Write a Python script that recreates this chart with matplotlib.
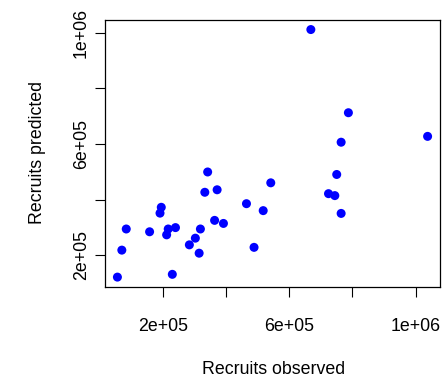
import matplotlib
matplotlib.use("Agg")
import matplotlib.pyplot as plt

# recruits observed vs predicted
observed = [6.68e5, 7.87e5, 1.038e6, 7.64e5, 7.50e5, 3.41e5, 5.41e5, 3.71e5,
            3.32e5, 7.24e5, 7.44e5, 4.64e5, 5.17e5, 7.64e5, 1.94e5, 1.90e5,
            3.63e5, 3.91e5, 0.83e5, 1.57e5, 2.16e5, 2.39e5, 2.11e5, 3.18e5,
            3.02e5, 2.83e5, 3.14e5, 4.88e5, 0.69e5, 0.55e5, 2.29e5]
predicted = [1.011e6, 7.12e5, 6.27e5, 6.06e5, 4.90e5, 4.99e5, 4.60e5, 4.35e5,
             4.26e5, 4.21e5, 4.14e5, 3.85e5, 3.60e5, 3.50e5, 3.72e5, 3.51e5,
             3.25e5, 3.14e5, 2.94e5, 2.84e5, 2.94e5, 2.99e5, 2.73e5, 2.94e5,
             2.61e5, 2.37e5, 2.07e5, 2.28e5, 2.18e5, 1.21e5, 1.31e5]

xticks = [2e5, 4e5, 6e5, 8e5, 1e6]
xticklabels = ["2e+05", "", "6e+05", "", "1e+06"]
yticks = [2e5, 4e5, 6e5, 8e5, 1e6]
yticklabels = ["2e+05", "", "6e+05", "", "1e+06"]

plt.rcParams['font.family'] = ['Liberation Sans', 'DejaVu Sans']

fig = plt.figure(figsize=(4.44, 3.78), dpi=100)
ax = fig.add_axes([0.2365, 0.2407, 0.7545, 0.7073])

ax.scatter(observed, predicted, s=42, color="blue", edgecolors="none", zorder=3)

# R style 4% padding around the data range
def pad(vals):
    lo, hi = min(vals), max(vals)
    d = (hi - lo) * 0.04
    return lo - d, hi + d

ax.set_xlim(*pad(observed))
ax.set_ylim(*pad(predicted))

ax.set_xticks(xticks)
ax.set_xticklabels(xticklabels, fontsize=12.8)
ax.set_yticks(yticks)
ax.set_yticklabels(yticklabels, fontsize=12.8, rotation=90, va="center")
ax.tick_params(axis="both", length=7.5, width=0.8, color="black")
ax.tick_params(axis="x", pad=15)
ax.tick_params(axis="y", pad=3.5)

for sp in ax.spines.values():
    sp.set_linewidth(0.9)
    sp.set_color("black")

fig.text(0.5 + 0.117, 1 - 369 / 378, "Recruits observed", ha="center", va="center", fontsize=12.8)
fig.text(37 / 444, 1 - 153 / 378, "Recruits predicted", ha="center", va="center",
         rotation=90, fontsize=12.8)

fig.savefig("out.png", dpi=100)
